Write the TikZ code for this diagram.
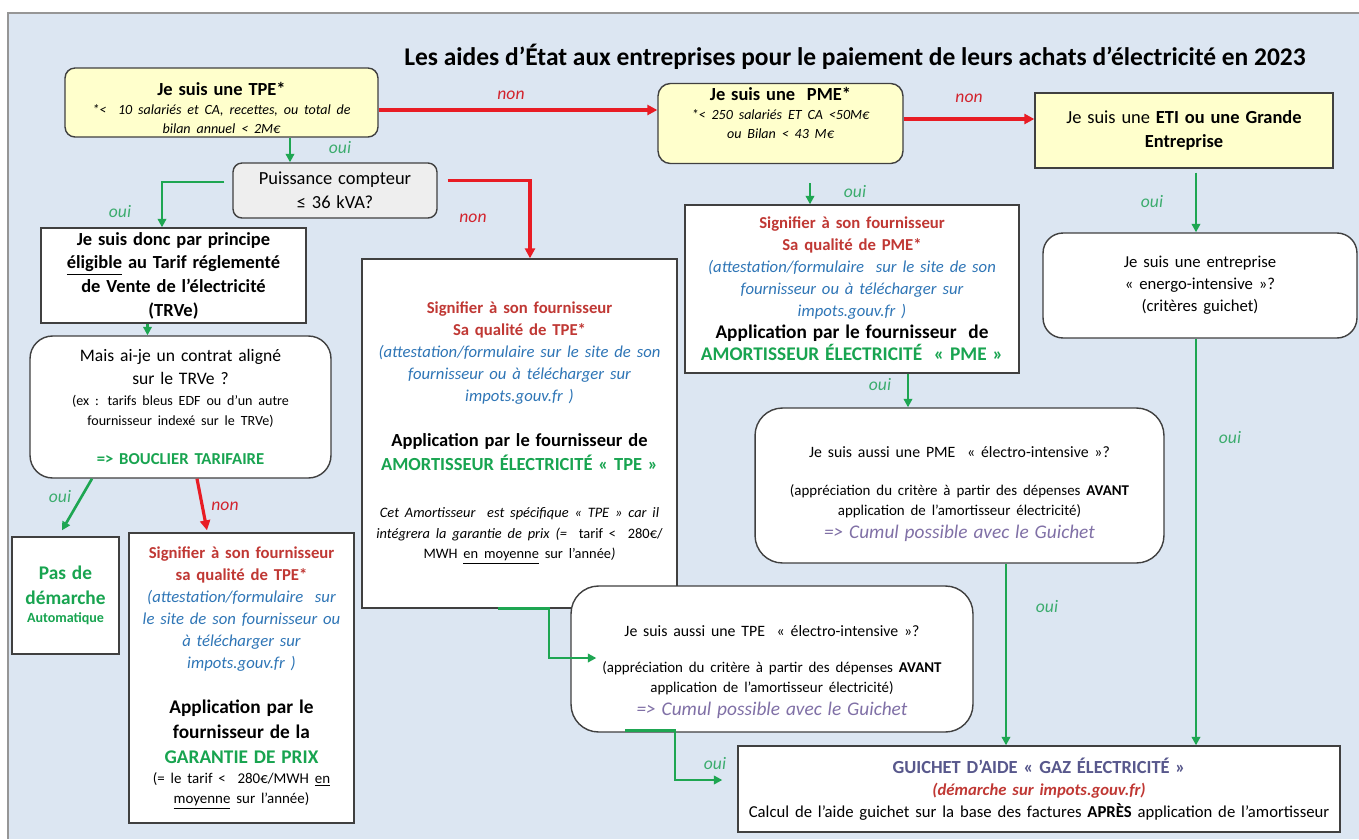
\documentclass[tikz,border=0pt]{standalone}
\usepackage{fontspec}
\setmainfont{Carlito}
\usepackage{xcolor}
\usetikzlibrary{arrows.meta,positioning,calc}

\definecolor{panelblue}{RGB}{220,230,242}
\definecolor{panelline}{RGB}{150,150,150}
\definecolor{edgegrey}{RGB}{64,64,64}
\definecolor{askyellow}{RGB}{255,255,204}
\definecolor{askgrey}{RGB}{238,238,238}
\definecolor{ouigreen}{RGB}{30,166,82}
\definecolor{ouitext}{RGB}{60,172,110}
\definecolor{nonred}{RGB}{232,28,36}
\definecolor{nontext}{RGB}{210,35,45}
\definecolor{sigred}{RGB}{192,56,52}
\definecolor{infoblue}{RGB}{46,117,182}
\definecolor{amgreen}{RGB}{24,164,80}
\definecolor{cumulpurple}{RGB}{128,112,166}
\definecolor{guipurple}{RGB}{88,88,140}

\setlength{\parindent}{0pt}
\newcommand{\fsL}{\fontsize{10.5}{13.5}\selectfont}
\newcommand{\fsM}{\fontsize{9.5}{12.5}\selectfont}
\newcommand{\fsS}{\fontsize{8.5}{11.5}\selectfont}
\newcommand{\fsXS}{\fontsize{8}{11}\selectfont}
% extra space below the text of a box, shifts the text up (negative: down)
\newcommand{\textlift}[1]{\par\vspace{#1}\kern0pt}

\begin{document}
\begin{tikzpicture}[
    x=0.02cm, y=-0.02cm,
    box/.style={
        rectangle,
        draw=edgegrey,
        line width=0.8pt,
        fill=white,
        align=center,
        inner sep=2pt
    },
    roundbox/.style={
        box,
        rounded corners=#1
    },
    roundbox/.default=0.45cm,
    askbox/.style={
        roundbox=0.2cm,
        fill=askyellow
    },
    ouiarrow/.style={
        -{Triangle[length=1.7mm,width=1.7mm]},
        draw=ouigreen,
        line width=1.5pt
    },
    nonarrow/.style={
        -{Triangle[length=2mm,width=2mm]},
        draw=nonred,
        line width=1.8pt
    },
    ouilabel/.style={
        text=ouitext,
        font=\fontsize{10}{12}\selectfont\itshape,
        inner sep=1pt
    },
    nonlabel/.style={
        text=nontext,
        font=\fontsize{10}{12}\selectfont\itshape,
        inner sep=1pt
    }
]

% =========================
% Background panel
% =========================

\useasboundingbox (0,0) rectangle (1359,839);
\fill[white] (0,0) rectangle (1359,839);
\fill[panelblue] (8,13) rectangle (1359,839);
\draw[panelline, line width=0.8pt] (8,839) -- (8,13) -- (1359,13);

\node[font=\fontsize{14.5}{17}\selectfont\bfseries] (title) at (855,57)
{Les aides d’État aux entreprises pour le paiement de leurs achats d’électricité en 2023};

% =========================
% Company size
% =========================

\node[askbox, minimum width=6.26cm, minimum height=1.38cm, text width=6cm] (tpe) at (221.5,102.5)
{{\fsL\bfseries Je suis une TPE*\par}
 {\fsXS\itshape *<\ \ 10 salariés et CA, recettes, ou total de\\ bilan annuel < 2M€\par}\textlift{-6pt}};

\node[askbox, roundbox=0.25cm, fill=askyellow, minimum width=4.9cm, minimum height=1.58cm, text width=4.7cm] (pme) at (780.5,123.5)
{{\fsL\bfseries Je suis une\ \ PME*\par}
 {\fsXS\itshape *< 250 salariés ET CA <50M€\\ ou Bilan < 43 M€\par}\textlift{12pt}};

\node[box, fill=askyellow, minimum width=5.96cm, minimum height=1.5cm, text width=5.7cm] (eti) at (1184,130.5)
{{\fsL Je suis une \textbf{ETI ou une Grande}\\ \textbf{Entreprise}\par}};

% =========================
% TPE branch
% =========================

\node[roundbox=0.18cm, fill=askgrey, minimum width=4.08cm, minimum height=1.1cm, text width=3.9cm] (puiss) at (335,190.5)
{{\fsL Puissance compteur\\ ≤ 36 kVA?\par}};

\node[box, minimum width=5.3cm, minimum height=1.9cm, text width=5.1cm] (donc) at (173.5,275.5)
{{\fsL\bfseries Je suis donc par principe\\ \underline{éligible} au Tarif réglementé\\ de Vente de l’électricité\\ (TRVe)\par}};

\node[roundbox=0.45cm, minimum width=6.02cm, minimum height=2.84cm, text width=5.8cm] (mais) at (180.5,407)
{{\fontsize{10}{13.5}\selectfont Mais ai-je un contrat aligné\\ sur le TRVe ?\par}
 {\fontsize{8}{11.5}\selectfont (ex : tarifs bleus EDF ou d’un autre\\ fournisseur indexé sur le TRVe)\par}
 \vspace{10pt}
 {\fsM\bfseries\color{amgreen} => BOUCLIER TARIFAIRE\par}};

\node[box, minimum width=2.14cm, minimum height=2.34cm, text width=2cm] (pas) at (65.5,595.5)
{{\fontsize{11}{14}\selectfont\bfseries\color{amgreen} Pas de\\ démarche\par}
 {\fontsize{8}{10.5}\selectfont\bfseries\color{amgreen} Automatique\par}};

\node[box, minimum width=4.5cm, minimum height=5.8cm, text width=4.35cm] (sigpetit) at (241.5,678)
{{\fsM\bfseries\color{sigred} Signifier à son fournisseur\\ sa qualité de TPE*\par}
 {\fsM\itshape\color{infoblue} (attestation/formulaire\ \ sur\\ le site de son fournisseur ou\\ à télécharger sur\\ impots.gouv.fr )\par}
 \vspace{12pt}
 {\fontsize{11}{14}\selectfont\bfseries Application par le\\ fournisseur de la\\ \color{amgreen}GARANTIE DE PRIX\par}
 {\fsS (= le tarif <\ \ 280€/MWH \underline{en}\\ \underline{moyenne} sur l’année)\par}};

\node[box, minimum width=6.3cm, minimum height=6.98cm, text width=6.1cm] (sigtpe) at (519.5,433.5)
{{\fsM\bfseries\color{sigred} Signifier à son fournisseur\\ Sa qualité de TPE*\par}
 {\fsM\itshape\color{infoblue} (attestation/formulaire sur le site de son\\ fournisseur ou à télécharger sur\\ impots.gouv.fr )\par}
 \vspace{12pt}
 {\fsL\bfseries Application par le fournisseur de\\ \color{amgreen}AMORTISSEUR ÉLECTRICITÉ « TPE »\par}
 \vspace{15pt}
 {\fontsize{8.2}{11.8}\selectfont\itshape Cet Amortisseur\ \ est spécifique « TPE » car il\\ intégrera la garantie de prix (=\ \ \upshape tarif <\ \ 280€/\\ MWH \underline{en moyenne} sur l’année\itshape)\par}};

\node[roundbox=0.55cm, minimum width=8.04cm, minimum height=2.92cm, text width=7.8cm] (tpeelec) at (772,659)
{{\fontsize{9}{12}\selectfont Je suis aussi une TPE\ \ « électro-intensive »?\par}
 \vspace{9pt}
 {\fsS (appréciation du critère à partir des dépenses \textbf{AVANT}\\ application de l’amortisseur électricité)\par}
 {\fontsize{11}{13}\selectfont\itshape\color{cumulpurple} => Cumul possible avec le Guichet\par}\textlift{-15pt}};

% =========================
% PME branch
% =========================

\node[box, minimum width=6.68cm, minimum height=3.36cm, text width=6.5cm] (sigpme) at (852,289)
{{\fsM\bfseries\color{sigred} Signifier à son fournisseur\\ Sa qualité de PME*\par}
 {\fsM\itshape\color{infoblue} (attestation/formulaire\ \ sur le site de son\\ fournisseur ou à télécharger sur\\ impots.gouv.fr )\par}
 {\fontsize{11}{12.5}\selectfont\bfseries Application par le fournisseur\ \ de\\ \color{amgreen}AMORTISSEUR ÉLECTRICITÉ\ \ « PME »\par}};

\node[roundbox=0.55cm, minimum width=8.18cm, minimum height=3.1cm, text width=7.9cm] (pmeelec) at (959.5,485.5)
{{\fontsize{9}{12}\selectfont Je suis aussi une PME\ \ « électro-intensive »?\par}
 \vspace{10pt}
 {\fsS (appréciation du critère à partir des dépenses \textbf{AVANT}\\ application de l’amortisseur électricité)\par}
 {\fontsize{11}{13}\selectfont\itshape\color{cumulpurple} => Cumul possible avec le Guichet\par}\textlift{-10pt}};

% =========================
% ETI branch and guichet
% =========================

\node[roundbox=0.4cm, minimum width=6.28cm, minimum height=2.1cm, text width=6cm] (energo) at (1200,285.5)
{{\fsM Je suis une entreprise\\ « energo-intensive »?\\ (critères guichet)\par}};

\node[box, minimum width=12.04cm, minimum height=1.72cm, text width=11.9cm] (guichet) at (1039,789)
{{\fontsize{10.5}{12.5}\selectfont\bfseries\color{guipurple} GUICHET D’AIDE « GAZ ÉLECTRICITÉ »\par}
 {\fsM\bfseries\itshape\color{sigred} (démarche sur impots.gouv.fr)\par}
 {\fontsize{9.5}{12.5}\selectfont Calcul de l’aide guichet sur la base des factures \textbf{APRÈS} application de l’amortisseur\par}};

% =========================
% "non" connections
% =========================

\coordinate (tpeNon) at ($(tpe.east)+(0,7.5)$);
\draw[nonarrow] (tpeNon) -- (tpeNon -| pme.west);

\coordinate (pmeNon) at ($(pme.east)+(0,-4.5)$);
\draw[nonarrow] (pmeNon) -- (pmeNon -| eti.west);

\draw[nonarrow] ($(puiss.east)+(10,-10)$) -| ($(sigtpe.north)+(10.5,0)$);

\draw[nonarrow] ($(mais.south)+(16.5,0)$) -- ($(sigpetit.north)+(-34.5,-2)$);

% =========================
% "oui" connections
% =========================

\coordinate (tpeOut) at ($(tpe.south)+(68.5,0)$);
\draw[ouiarrow] (tpeOut) -- (tpeOut |- puiss.north);

\draw[ouiarrow] ($(puiss.west)+(-8,-8.5)$) -| ($(donc.north)+(-11.5,0)$);

\coordinate (doncOut) at ($(donc.south)+(-26,0)$);
\draw[ouiarrow] (doncOut) -- (doncOut |- mais.north);

\draw[ouiarrow] ($(mais.south)+(-88.5,0)$) -- ($(pas.north)+(-3.5,-6)$);

\draw[ouiarrow] ($(sigtpe.south)+(-21.5,0)$) -- ++(51,0) |- ($(tpeelec.west)+(26,-1)$);

\draw[ouiarrow] ($(tpeelec.south)+(-147,-2)$) -- ++(50,0) |- ($(guichet.west)+(-15,-9)$);

\coordinate (pmeOut) at ($(pme.south)+(29.5,19)$);
\draw[ouiarrow] (pmeOut) -- (pmeOut |- sigpme.north);

\coordinate (sigPmeOut) at ($(sigpme.south)+(56,0)$);
\draw[ouiarrow] (sigPmeOut) -- (sigPmeOut |- pmeelec.north);

\coordinate (pmeElecOut) at ($(pmeelec.south)+(46.5,0)$);
\draw[ouiarrow] (pmeElecOut) -- (pmeElecOut |- guichet.north);

\coordinate (etiOut) at ($(eti.south)+(12,4)$);
\draw[ouiarrow] (etiOut) -- (etiOut |- energo.north);

\coordinate (energoOut) at ($(energo.south)+(-4,0)$);
\draw[ouiarrow] (energoOut) -- (energoOut |- guichet.north);

% =========================
% Labels
% =========================

\node[nonlabel] (lblNonPme) at (511,95) {non};
\node[nonlabel] (lblNonEti) at (969,98) {non};
\node[nonlabel] (lblNonSig) at (473,218) {non};
\node[nonlabel] (lblNonGar) at (225,506) {non};

\node[ouilabel] (lblOuiPuiss) at (340,148) {oui};
\node[ouilabel] (lblOuiDonc) at (120,212) {oui};
\node[ouilabel] (lblOuiPas) at (60,497) {oui};
\node[ouilabel] (lblOuiPme) at (855,192) {oui};
\node[ouilabel] (lblOuiEti) at (1152,202) {oui};
\node[ouilabel] (lblOuiPmeElec) at (880,385) {oui};
\node[ouilabel] (lblOuiEnergo) at (1230,438) {oui};
\node[ouilabel] (lblOuiGuiPme) at (1047,607) {oui};
\node[ouilabel] (lblOuiGuiTpe) at (715,764) {oui};

\end{tikzpicture}
\end{document}
